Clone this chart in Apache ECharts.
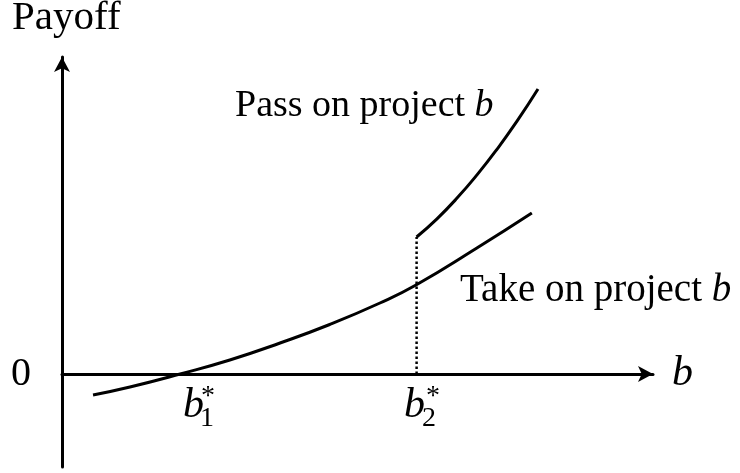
<!DOCTYPE html>
<html>
<head>
<meta charset="utf-8">
<script src="https://cdn.jsdelivr.net/npm/echarts@6/dist/echarts.min.js"></script>
<style>html,body{margin:0;padding:0;background:#fff}#c{width:740px;height:473px}</style>
</head>
<body>
<div id="c"></div>
<script>
// Data (conceptual units: x = b, y = payoff)
const takeX = [5.25, 11.5, 20.0, 28.4, 36.9, 45.3, 53.8, 59.9, 70.2, 79.5];
const takeY = [-4.2, -2.6, 0.0, 2.8, 6.2, 9.9, 14.2, 17.8, 25.2, 32.2];
const passX = [60.0, 63.45, 66.84, 70.22, 73.6, 76.99, 80.54];
const passY = [27.4, 31.04, 35.18, 39.82, 44.94, 50.56, 57.0];
const b1 = 20.0;
const b2 = 60.0;
const yTicks = [0];

const FONT = '"Liberation Serif", "Times New Roman", serif';
const zip = (xs, ys) => xs.map((x, i) => [x, ys[i]]);
const label = (x, y, t, size) => ({
  type: 'text',
  style: {
    x: x, y: y, text: '{n|' + t + ' }{i|b}', verticalAlign: 'middle',
    rich: {
      n: { fontFamily: FONT, fontSize: size, fill: '#000', color: '#000' },
      i: { fontFamily: FONT, fontSize: size, fontStyle: 'italic', fill: '#000', color: '#000' }
    }
  }
});
const txt = (x, y, t, font) => ({ type: 'text', style: { x: x, y: y, text: t, font: font, fill: '#000', verticalAlign: 'middle' } });

const chart = echarts.init(document.getElementById('c'));
chart.setOption({
  animation: false,
  backgroundColor: '#fff',
  grid: { left: 62, right: 87, top: 57, bottom: 6 },
  xAxis: {
    type: 'value', min: 0, max: 100,
    name: 'b', nameLocation: 'end', nameGap: 19,
    nameTextStyle: { fontFamily: FONT, fontStyle: 'italic', fontSize: 42, color: '#000', verticalAlign: 'middle' },
    axisLine: { onZero: true, lineStyle: { color: '#000', width: 3 }, symbol: ['none', 'arrow'], symbolSize: [12, 15] },
    axisTick: { show: false }, axisLabel: { show: false }, splitLine: { show: false }
  },
  yAxis: {
    type: 'value', min: -18.6, max: 63.4,
    axisLine: { lineStyle: { color: '#000', width: 3 }, symbol: ['none', 'arrow'], symbolSize: [12, 15] },
    axisTick: { show: false },
    axisLabel: { show: true, customValues: yTicks, formatter: v => String(v), fontFamily: FONT, fontSize: 40, color: '#000', margin: 31 },
    splitLine: { show: false }
  },
  series: [
    { type: 'line', data: zip(takeX, takeY), smooth: 0.5, symbol: 'none', lineStyle: { color: '#000', width: 3 } },
    { type: 'line', data: zip(passX, passY), smooth: 0.5, symbol: 'none', lineStyle: { color: '#000', width: 3 } },
    { type: 'line', data: [[b2, 0], [b2, passY[0]]], symbol: 'none', lineStyle: { color: '#000', width: 2.5, type: [2.5, 2.5] } }
  ],
  graphic: [
    txt(12, 18, 'Payoff', '41px ' + FONT),
    label(235, 106, 'Pass on project', 38),
    label(460, 291, 'Take on project', 39),
    txt(183, 406, 'b', 'italic 42px ' + FONT),
    txt(200, 419, '1', '28px ' + FONT),
    txt(201, 397, '*', '28px ' + FONT),
    txt(404, 406, 'b', 'italic 42px ' + FONT),
    txt(422, 419, '2', '28px ' + FONT),
    txt(426, 397, '*', '28px ' + FONT)
  ]
});
</script>
</body>
</html>
